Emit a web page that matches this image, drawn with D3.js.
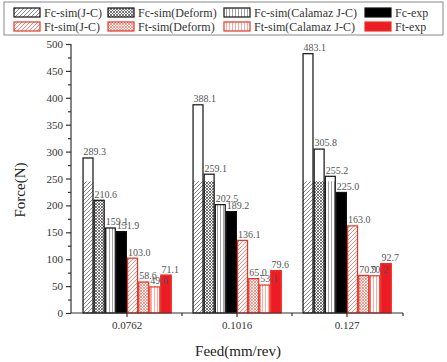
<!DOCTYPE html>
<html>
<head>
<meta charset="utf-8">
<script src="https://cdn.jsdelivr.net/npm/d3@7"></script>
<style>
  body { margin: 0; background: #fff; }
  svg { display: block; font-family: "Liberation Serif", "DejaVu Serif", serif; }
</style>
</head>
<body>
<div id="chart"></div>
<script>
var width = 447;
var height = 362;

// data
var feeds = ["0.0762", "0.1016", "0.127"];
var seriesNames = ["Fc-sim(J-C)", "Fc-sim(Deform)", "Fc-sim(Calamaz J-C)", "Fc-exp",
                   "Ft-sim(J-C)", "Ft-sim(Deform)", "Ft-sim(Calamaz J-C)", "Ft-exp"];
var fcSimJC      = [289.3, 388.1, 483.1];
var fcSimDeform  = [210.6, 259.1, 305.8];
var fcSimCalamaz = [159.1, 202.5, 255.2];
var fcExp        = [151.9, 189.2, 225.0];
var ftSimJC      = [103.0, 136.1, 163.0];
var ftSimDeform  = [58.6, 65.0, 70.9];
var ftSimCalamaz = [49.6, 53.1, 70.2];
var ftExp        = [71.1, 79.6, 92.7];
var yTicks = [0, 50, 100, 150, 200, 250, 300, 350, 400, 450, 500];

var allSeries = [fcSimJC, fcSimDeform, fcSimCalamaz, fcExp, ftSimJC, ftSimDeform, ftSimCalamaz, ftExp];
var fills = ["url(#hatchK)", "url(#crossK)", "url(#vertK)", "#000",
             "url(#hatchR)", "url(#crossR)", "url(#vertR)", "#ed1c24"];
var strokes = ["#111", "#111", "#111", "#111", "#ee3124", "#ee3124", "#ee3124", "#ee3124"];

var svg = d3.select("#chart").append("svg")
  .attr("width", width).attr("height", height);

// patterns
var defs = svg.append("defs");
function hatch(id, col) {
  var p = defs.append("pattern").attr("id", id).attr("patternUnits", "userSpaceOnUse")
    .attr("width", 4).attr("height", 4);
  p.append("rect").attr("width", 4).attr("height", 4).attr("fill", "#fff");
  p.append("path").attr("d", "M-1,1 L1,-1 M0,4 L4,0 M3,5 L5,3")
    .attr("stroke", col).attr("stroke-width", 0.9);
}
function cross(id, col) {
  var p = defs.append("pattern").attr("id", id).attr("patternUnits", "userSpaceOnUse")
    .attr("width", 3).attr("height", 3);
  p.append("rect").attr("width", 3).attr("height", 3).attr("fill", "#fff");
  p.append("path").attr("d", "M0,0 L3,3 M3,0 L0,3")
    .attr("stroke", col).attr("stroke-width", 0.8);
}
function vert(id, col) {
  var p = defs.append("pattern").attr("id", id).attr("patternUnits", "userSpaceOnUse")
    .attr("width", 3).attr("height", 3);
  p.append("rect").attr("width", 3).attr("height", 3).attr("fill", "#fff");
  p.append("path").attr("d", "M1.5,0 L1.5,3").attr("stroke", col).attr("stroke-width", 0.9);
}
hatch("hatchK", "#777"); cross("crossK", "#555"); vert("vertK", "#999");
hatch("hatchR", "#f47c6e"); cross("crossR", "#f47c6e"); vert("vertR", "#f7a499");

var x0 = d3.scaleBand().domain(feeds).range([72, 402]).paddingInner(0.19).paddingOuter(0.095);
var x1 = d3.scaleBand().domain(d3.range(8)).range([0, x0.bandwidth()]);
var y = d3.scaleLinear().domain([0, 500]).range([313, 44]);

// pattern only shows below this line in the picture
var cutY = y(245);
defs.append("clipPath").attr("id", "lowClip")
  .append("rect").attr("x", 0).attr("y", cutY).attr("width", width).attr("height", height);

var bars = [];
feeds.forEach(function(f, gi) {
  allSeries.forEach(function(s, si) {
    bars.push({feed: f, si: si, value: s[gi]});
  });
});

var g = svg.append("g");
// white underlay
g.selectAll(".base").data(bars).enter().append("rect")
  .attr("x", d => x0(d.feed) + x1(d.si))
  .attr("y", d => y(d.value))
  .attr("width", x1.bandwidth())
  .attr("height", d => y(0) - y(d.value))
  .attr("fill", d => d.si == 3 || d.si == 7 ? fills[d.si] : "#fff");
g.selectAll(".fillbar").data(bars).enter().append("rect")
  .attr("clip-path", "url(#lowClip)")
  .attr("x", d => x0(d.feed) + x1(d.si))
  .attr("y", d => y(d.value))
  .attr("width", x1.bandwidth())
  .attr("height", d => y(0) - y(d.value))
  .attr("fill", d => fills[d.si]);
g.selectAll(".outline").data(bars).enter().append("rect")
  .attr("x", d => x0(d.feed) + x1(d.si) + 0.6)
  .attr("y", d => y(d.value) + 0.6)
  .attr("width", x1.bandwidth() - 1.2)
  .attr("height", d => y(0) - y(d.value) - 0.6)
  .attr("fill", "none")
  .attr("stroke", d => strokes[d.si])
  .attr("stroke-width", 1.2);

// value labels
g.selectAll(".lbl").data(bars).enter().append("text")
  .attr("x", d => x0(d.feed) + x1(d.si) + 1)
  .attr("y", d => y(d.value) - 2)
  .attr("font-size", "10px")
  .attr("fill", "#555")
  .text(d => d.value.toFixed(1));

// y axis
var yAxis = d3.axisLeft(y).tickValues(yTicks).tickSize(5).tickPadding(3);
var ya = svg.append("g").attr("transform", "translate(71,0)").call(yAxis);
ya.select(".domain").attr("stroke", "#333").attr("stroke-width", 1.2).attr("d", "M0," + y(0) + "V" + y(500));
ya.selectAll(".tick line").attr("stroke", "#333").attr("stroke-width", 1.2);
ya.selectAll("text").attr("font-family", "Liberation Serif").attr("font-size", "11px").attr("fill", "#333");
var yMinor = d3.axisLeft(y).tickValues(d3.range(25, 500, 50)).tickSize(3).tickFormat("");
var ym = svg.append("g").attr("transform", "translate(71,0)").call(yMinor);
ym.select(".domain").remove();
ym.selectAll(".tick line").attr("stroke", "#333").attr("stroke-width", 1.2);

// x axis
var xAxis = d3.axisBottom(x0).tickSize(4).tickPadding(4);
var xa = svg.append("g").attr("transform", "translate(0," + y(0) + ")").call(xAxis);
xa.select(".domain").attr("stroke", "#333").attr("stroke-width", 1.2).attr("d", "M71,0H403");
xa.selectAll(".tick line").attr("stroke", "#333").attr("stroke-width", 1.2);
xa.selectAll("text").attr("font-family", "Liberation Serif").attr("font-size", "11px").attr("fill", "#333");
var bounds = [x0(feeds[0]) + x0.bandwidth() / 2 + x0.step() / 2, x0(feeds[1]) + x0.bandwidth() / 2 + x0.step() / 2, 403];
xa.selectAll(".minor").data(bounds).enter().append("line")
  .attr("x1", d => d).attr("x2", d => d).attr("y1", 0).attr("y2", 3)
  .attr("stroke", "#333").attr("stroke-width", 1.2);

// axis titles
svg.append("text").attr("x", 238).attr("y", 356).attr("text-anchor", "middle")
  .attr("font-size", "15px").attr("fill", "#222").text("Feed(mm/rev)");
svg.append("text").attr("transform", "translate(25,190) rotate(-90)").attr("text-anchor", "middle")
  .attr("font-size", "15px").attr("fill", "#222").text("Force(N)");

// legend
var leg = svg.append("g");
leg.append("rect").attr("x", 4).attr("y", 2).attr("width", 439).attr("height", 33)
  .attr("fill", "#fff").attr("stroke", "#888").attr("stroke-width", 1);
var colX = [14, 108, 224, 365];
seriesNames.forEach(function(name, i) {
  var cx = colX[i % 4];
  var ry = i < 4 ? 8 : 22;
  leg.append("rect").attr("x", cx).attr("y", ry).attr("width", 26).attr("height", 9)
    .attr("fill", fills[i]).attr("stroke", strokes[i]).attr("stroke-width", 1.2);
  leg.append("text").attr("x", cx + 30).attr("y", ry + 9)
    .attr("font-size", "12px").attr("fill", "#333").text(name);
});
</script>
</body>
</html>
